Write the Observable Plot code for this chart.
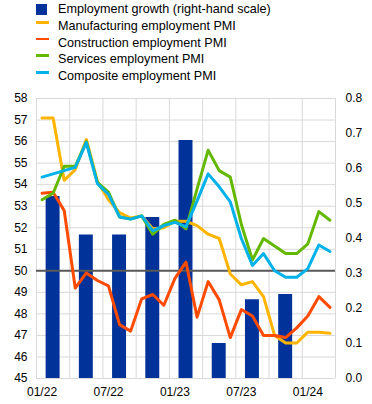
<!DOCTYPE html>
<html>
<head>
<meta charset="utf-8">
<script src="https://cdn.jsdelivr.net/npm/d3@7"></script>
<script src="https://cdn.jsdelivr.net/npm/@observablehq/plot@0.6"></script>
<style>
  html, body { margin: 0; padding: 0; background: #fff; }
  body { width: 372px; height: 404px; overflow: hidden; font-family: "Liberation Sans", Arial, sans-serif; }
  #legend { position: relative; height: 88px; width: 372px; }
  .row { position: absolute; left: 0; height: 16.5px; line-height: 16.5px; font-size: 12.6px; color: #000; white-space: nowrap; }
  .row .txt { position: absolute; left: 58px; top: 0; }
  .row .sq { position: absolute; left: 36px; top: 2.6px; width: 10.7px; height: 10.7px; }
  .row .ln { position: absolute; left: 36px; top: 3.2px; width: 13.3px; height: 2.8px; }
  #chart svg { display: block; }
</style>
</head>
<body>
<div id="legend"></div>
<div id="chart"></div>
<script>
// Monthly categories (Jan 2022 – Mar 2024)
const months = ["2022-01","2022-02","2022-03","2022-04","2022-05","2022-06","2022-07","2022-08","2022-09",
  "2022-10","2022-11","2022-12","2023-01","2023-02","2023-03","2023-04","2023-05","2023-06",
  "2023-07","2023-08","2023-09","2023-10","2023-11","2023-12","2024-01","2024-02","2024-03"];
const manufacturing = [57.1, 57.1, 54.2, 54.7, 56.1, 54.15, 53.3, 52.7, 52.45, 52.55, 51.95, 52.0, 52.3,
  52.3, 52.1, 51.7, 51.5, 49.85, 49.35, 49.5, 48.8, 47.0, 46.65, 46.65, 47.15, 47.15, 47.1];
const construction = [53.6, 53.65, 52.8, 49.2, 49.9, 49.55, 49.3, 47.5, 47.2, 48.7, 48.9, 48.4, 49.65,
  50.4, 47.85, 49.5, 48.65, 46.9, 48.2, 47.9, 47.0, 47.0, 46.9, 47.35, 47.9, 48.8, 48.3];
const services = [53.3, 53.6, 54.85, 54.85, 56.0, 54.1, 53.65, 52.5, 52.4, 52.55, 51.7, 52.15, 52.35,
  51.95, 53.8, 55.6, 54.65, 54.35, 52.15, 50.5, 51.5, 51.15, 50.8, 50.8, 51.25, 52.75, 52.35];
const composite = [54.35, 54.5, 54.65, 54.8, 55.95, 54.05, 53.55, 52.5, 52.4, 52.55, 51.85, 52.1, 52.25,
  52.05, 53.25, 54.5, 53.9, 53.2, 51.5, 50.25, 50.8, 50.0, 49.7, 49.7, 50.1, 51.2, 50.9];

// Quarterly employment growth (right-hand scale)
const quarters = ["2022Q1","2022Q2","2022Q3","2022Q4","2023Q1","2023Q2","2023Q3","2023Q4"];
const employmentGrowth = [0.52, 0.41, 0.41, 0.46, 0.68, 0.10, 0.225, 0.24];

// Axis ticks
const leftTicks = [45,46,47,48,49,50,51,52,53,54,55,56,57,58];
const rightTicks = [0.0,0.1,0.2,0.3,0.4,0.5,0.6,0.7,0.8];
const xTickMonths = ["2022-01","2022-07","2023-01","2023-07","2024-01"];
const xTickLabels = ["01/22","07/22","01/23","07/23","01/24"];

const series = [
  {name: "Manufacturing employment PMI", values: manufacturing, color: "#FFB400"},
  {name: "Construction employment PMI", values: construction, color: "#FF4B00"},
  {name: "Services employment PMI", values: services, color: "#65B800"},
  {name: "Composite employment PMI", values: composite, color: "#00B1EA"}
];
const barColor = "#003299";

// Legend
const legend = document.getElementById("legend");
const items = [{name: "Employment growth (right-hand scale)", color: barColor, bar: true}, ...series];
items.forEach((it, i) => {
  const row = document.createElement("div");
  row.className = "row";
  row.style.top = (1.4 + i * 16.55) + "px";
  const m = document.createElement("div");
  m.className = it.bar ? "sq" : "ln";
  m.style.background = it.color;
  const t = document.createElement("span");
  t.className = "txt";
  t.textContent = it.name;
  row.appendChild(m); row.appendChild(t);
  legend.appendChild(row);
});

// Dual-axis mapping: right scale (0–0.8) onto left scale (45–58)
const yMin = 45, yMax = 58, rMax = 0.8;
const toLeft = v => yMin + v / rMax * (yMax - yMin);
const fromLeft = y => (y - yMin) / (yMax - yMin) * rMax;

const lineData = series.flatMap(s => s.values.map((v, i) => ({series: s.name, color: s.color, m: months[i], i, v})));
const barData = quarters.map((q, k) => ({q, k, v: employmentGrowth[k]}));
const barHalf = 0.63; // in months

const chart = Plot.plot({
  width: 372,
  height: 316,
  marginLeft: 36,
  marginRight: 37,
  marginTop: 10,
  marginBottom: 26,
  x: {domain: [0, months.length], axis: null},
  y: {domain: [yMin, yMax], axis: null},
  style: {fontFamily: "'Liberation Sans', Arial, sans-serif", fontSize: "12px", color: "#000", background: "#fff"},
  marks: [
    Plot.gridY(leftTicks, {stroke: "#d9d9d9", strokeOpacity: 1, strokeWidth: 1}),
    Plot.gridX(d3.range(0, months.length + 1, 3), {stroke: "#d9d9d9", strokeOpacity: 1, strokeWidth: 1}),
    Plot.rect(barData, {
      x1: d => d.k * 3 + 1.5 - barHalf,
      x2: d => d.k * 3 + 1.5 + barHalf,
      y1: yMin,
      y2: d => toLeft(d.v),
      fill: barColor
    }),
    Plot.ruleY([50], {stroke: "#595959", strokeWidth: 2}),
    ...series.map(s => Plot.line(lineData.filter(d => d.series === s.name), {
      x: d => d.i + 0.5, y: "v", stroke: s.color, strokeWidth: 3,
      strokeLinejoin: "round", strokeLinecap: "round"
    })),
    Plot.axisY(leftTicks, {anchor: "left", label: null, tickSize: 0, tickPadding: 9, tickFormat: d => String(d), fontSize: 12}),
    Plot.axisY(rightTicks.map(toLeft), {anchor: "right", label: null, tickSize: 0, tickPadding: 10,
      tickFormat: d => fromLeft(d).toFixed(1), fontSize: 12}),
    Plot.axisX(xTickMonths.map(m => months.indexOf(m) + 0.5), {anchor: "bottom", label: null, tickSize: 0, tickPadding: 9,
      tickFormat: d => xTickLabels[xTickMonths.indexOf(months[Math.round(d - 0.5)])], fontSize: 12})
  ]
});
document.getElementById("chart").appendChild(chart);
</script>
</body>
</html>
